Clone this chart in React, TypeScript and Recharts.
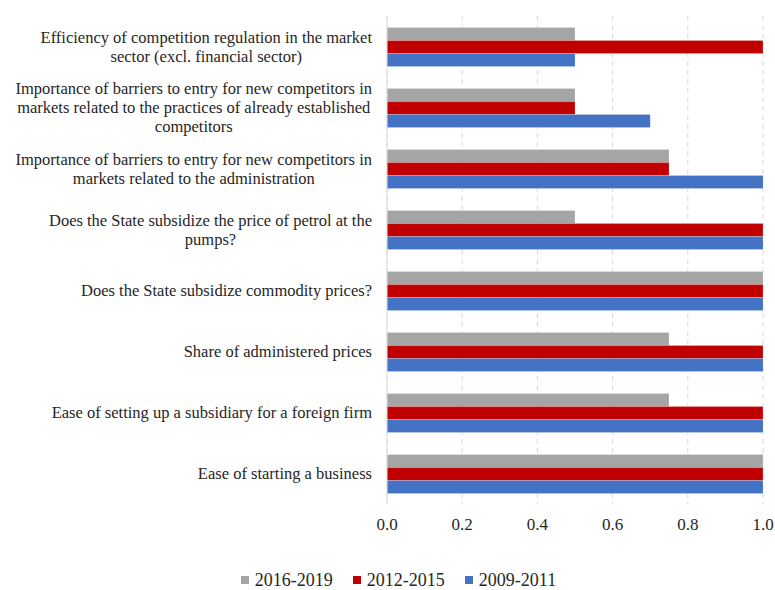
import { Bar, BarChart, CartesianGrid, Legend, XAxis, YAxis } from 'recharts'

const categories = [
  'Efficiency of competition regulation in the market\nsector (excl. financial sector)',
  'Importance of barriers to entry for new competitors in\nmarkets related to the practices of already established\ncompetitors',
  'Importance of barriers to entry for new competitors in\nmarkets related to the administration',
  'Does the State subsidize the price of petrol at the\npumps?',
  'Does the State subsidize commodity prices?',
  'Share of administered prices',
  'Ease of setting up a subsidiary for a foreign firm',
  'Ease of starting a business',
]

const s2016 = [0.5, 0.5, 0.75, 0.5, 1, 0.75, 0.75, 1]
const s2012 = [1, 0.5, 0.75, 1, 1, 1, 1, 1]
const s2009 = [0.5, 0.7, 1, 1, 1, 1, 1, 1]

const xTicks = [0, 0.2, 0.4, 0.6, 0.8, 1]

const series = [
  { key: 'p2016', name: '2016-2019', color: '#A5A5A5' },
  { key: 'p2012', name: '2012-2015', color: '#C00000' },
  { key: 'p2009', name: '2009-2011', color: '#4472C4' },
]

const data = categories.map((c, i) => ({
  label: c,
  p2016: s2016[i],
  p2012: s2012[i],
  p2009: s2009[i],
}))

const FONT = '"Liberation Serif", "Times New Roman", serif'
const LABEL_SIZE = 16.5
const LINE_H = 19

let ctx: CanvasRenderingContext2D | null = null
function measure(s: string, size: number) {
  if (!ctx) ctx = document.createElement('canvas').getContext('2d')
  if (!ctx) return s.length * size * 0.45
  ctx.font = `${size}px ${FONT}`
  return ctx.measureText(s).width
}

function CategoryTick({ x, y, payload }: any) {
  const lines = String(payload.value).split('\n')
  const w = Math.max(...lines.map((l) => measure(l, LABEL_SIZE)))
  const cx = x - w / 2
  const y0 = y - ((lines.length - 1) * LINE_H) / 2
  return (
    <g>
      {lines.map((l, i) => (
        <text
          key={i}
          x={cx}
          y={y0 + i * LINE_H}
          dy="0.35em"
          textAnchor="middle"
          fontFamily={FONT}
          fontSize={LABEL_SIZE}
          fill="#262626"
        >
          {l}
        </text>
      ))}
    </g>
  )
}

function LegendContent() {
  return (
    <div
      style={{
        display: 'flex',
        justifyContent: 'center',
        gap: 20,
        paddingTop: 15,
        paddingLeft: 34,
        fontFamily: FONT,
        fontSize: 18,
        lineHeight: '22px',
        color: '#262626',
      }}
    >
      {series.map((s) => (
        <div key={s.key} style={{ display: 'flex', alignItems: 'center', gap: 6 }}>
          <span style={{ width: 8, height: 8, background: s.color, display: 'inline-block' }} />
          <span>{s.name}</span>
        </div>
      ))}
    </div>
  )
}

export default function App() {
  return (
    <div style={{ position: 'absolute', left: 0, top: 0, background: '#fff' }}>
      <BarChart
        width={775}
        height={590}
        data={data}
        layout="vertical"
        barCategoryGap="19%"
        barGap={0}
        margin={{ top: 16, right: 12, bottom: 0, left: 0 }}
      >
        <CartesianGrid horizontal={false} stroke="#D9D9D9" strokeDasharray="5 4" />
        <XAxis
          type="number"
          domain={[0, 1]}
          ticks={xTicks}
          tickFormatter={(v: number) => v.toFixed(1)}
          axisLine={false}
          tickLine={false}
          tickSize={0}
          tickMargin={14}
          height={50}
          tick={{ fontFamily: FONT, fontSize: 17, fill: '#262626' }}
        />
        <YAxis
          type="category"
          dataKey="label"
          width={387}
          axisLine={{ stroke: '#D9D9D9' }}
          tickLine={false}
          tickSize={0}
          tickMargin={15}
          interval={0}
          tick={<CategoryTick />}
        />
        <Legend verticalAlign="bottom" height={36} content={<LegendContent />} />
        {series.map((s) => (
          <Bar
            key={s.key}
            dataKey={s.key}
            name={s.name}
            fill={s.color}
            stroke="#ffffff"
            strokeOpacity={0.4}
            strokeWidth={0.5}
            isAnimationActive={false}
          />
        ))}
      </BarChart>
    </div>
  )
}
